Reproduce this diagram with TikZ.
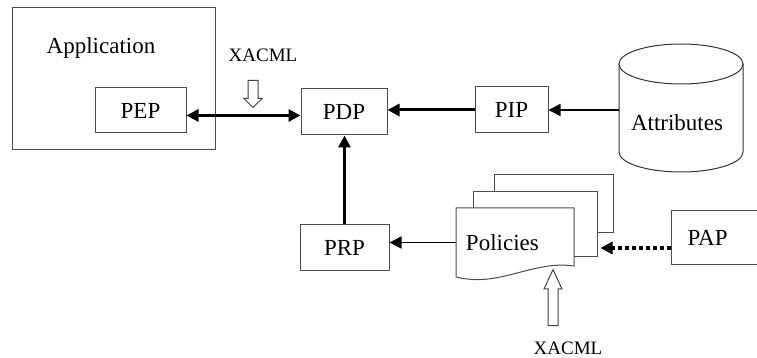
\documentclass[tikz,border=0pt]{standalone}
\usepackage{fontspec}
\setmainfont{LiberationSerif}[Extension=.ttf, UprightFont=*-Regular, BoldFont=*-Bold, ItalicFont=*-Italic, BoldItalicFont=*-BoldItalic]
\usetikzlibrary{arrows.meta, positioning, calc, shapes.arrows}

\begin{document}
\begin{tikzpicture}[
    x=0.5pt, y=-0.5pt,
    font=\rmfamily\fontsize{11.5}{13}\selectfont,
    % styles
    block/.style={
        draw=black!70, line width=0.5pt, fill=white, inner sep=0pt, align=center
    },
    page/.style={
        draw=black!70, line width=0.5pt, fill=white, inner sep=0pt
    },
    store/.style={
        draw=black!80, line width=0.5pt, fill=white
    },
    hollow/.style={
        draw=black!75, line width=0.5pt, fill=white, single arrow, inner xsep=0pt,
        inner ysep=2.25pt, minimum width=8.5pt, single arrow head extend=2pt
    },
    tag/.style={
        font=\rmfamily\fontsize{9.5}{11}\selectfont
    },
    main_flow/.style={
        ->, >={Triangle[length=6pt, width=6pt]}, line width=1.5pt
    },
    side_flow/.style={
        ->, >={Triangle[length=6pt, width=6pt]}, line width=0.8pt
    },
    admin_flow/.style={
        ->, >={Triangle[length=6pt, width=6pt]}, line width=1.6pt,
        dash pattern=on 2pt off 1.5pt
    }
]
    \useasboundingbox (0,0) rectangle (757,358);

    % --- application with its PEP ---
    \node[block, minimum width=101.5pt, minimum height=71pt] (app) at (113.5,79) {};
    \node (app_label) at (101,48) {Application};
    \node[block, minimum width=45.5pt, minimum height=22.5pt] (pep) at (140.5,110.5) {PEP};

    % --- decision point and information point ---
    \node[block, minimum width=43pt, minimum height=23pt] (pdp) at (344,112) {PDP};
    \node[block, minimum width=36.5pt, minimum height=23pt] (pip) at (511.5,110) {PIP};

    % attribute store (drawn as a cylinder)
    \node[minimum width=62pt, minimum height=64pt, inner sep=0pt] (attr) at (681,108) {};
    \draw[store] (619,64) -- (619,152) arc[start angle=180, end angle=360, x radius=31pt, y radius=10pt] -- (743,64);
    \draw[store] (681,64) ellipse [x radius=31pt, y radius=10pt];
    \node (attr_label) at (677,123) {Attributes};

    % --- retrieval point ---
    \node[block, minimum width=44.5pt, minimum height=23pt] (prp) at (344.5,248) {PRP};

    % --- policy stack ---
    \node[page, minimum width=59.5pt, minimum height=29pt] (page3) at (553.5,204) {};
    \node[page, minimum width=62pt, minimum height=32.5pt] (page2) at (535,224.5) {};
    \draw[page] (456,208) -- (574,208) -- (574,266)
        .. controls (532,260) and (500,288) .. (456,277) -- cycle;
    \node[text width=49pt, align=left, inner xsep=5pt, minimum height=34.5pt] (pol) at (515,242.5) {Policies};

    % --- administration point ---
    \node[block, text width=41pt, align=left, inner xsep=8pt, minimum height=27pt] (pap) at (728.5,238) {PAP};

    % --- XACML markers ---
    \node[tag] (xacml_top) at (263,55) {XACML};
    \node[hollow, rotate=-90, minimum height=13.5pt, single arrow tip angle=90] (in_top) at (253,91.5) {};
    \node[tag] (xacml_bot) at (568,348) {XACML};
    \node[hollow, rotate=90, minimum height=28pt, single arrow tip angle=50] (in_bot) at (553,303) {};

    % --- connections ---
    \draw[main_flow, <->] ([yshift=-2.5pt]pep.east) -- ([yshift=-2.5pt]pep.east -| pdp.west);
    \draw[main_flow] (pip.west) -- (pip.west -| pdp.east);
    \draw[side_flow] (attr.west |- pip.east) -- (pip.east);
    \draw[main_flow] (prp.north) -- (prp.north |- pdp.south);
    \draw[side_flow] (pol.west) -- (pol.west -| prp.east);
    \draw[admin_flow] ([yshift=-5pt]pap.west) -- ([yshift=-5pt, xshift=1.5pt]pap.west -| page2.east);

\end{tikzpicture}
\end{document}
